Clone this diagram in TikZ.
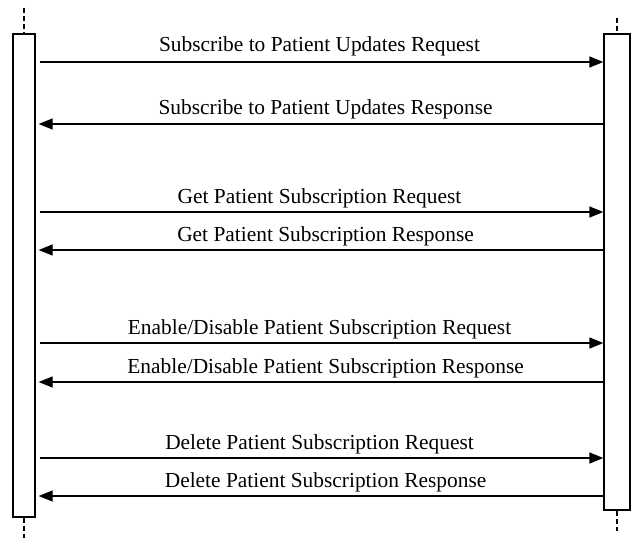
\documentclass[tikz,border=0pt]{standalone}
\usepackage{fontspec}
\setmainfont{Liberation Serif}
\usepackage{tikz}
\usetikzlibrary{arrows.meta}
\tikzset{
  bar/.style={draw,line width=1.3pt,inner sep=0pt},
  life/.style={line width=1.3pt,dash pattern=on 5pt off 3pt},
  msg/.style={line width=1.3pt,-{Triangle[length=14pt,width=11pt]}},
  lbl/.style={inner sep=0pt,font=\fontsize{21.4}{25}\selectfont},
}

\begin{document}
\begin{tikzpicture}[x=1pt,y=-1pt]
       \useasboundingbox (0,0) rectangle (644,543);
       % lifelines
       \node[bar,minimum width=22pt,minimum height=483pt] (lbar) at (24,275.5) {};
       \node[bar,minimum width=26pt,minimum height=476pt] (rbar) at (617,272) {};
       \coordinate (ltop) at (24,8);
       \coordinate (lbot) at (24,538);
       \coordinate (rtop) at (617,18);
       \coordinate (rbot) at (617,531);
       \draw[life] (ltop) -- (lbar.north);
       \draw[life] (lbar.south) -- (lbot);
       \draw[life] (rtop) -- (rbar.north);
       \draw[life] (rbar.south) -- (rbot);
       % messages
       \draw[msg,shorten <=4pt] (lbar.east |- 0,62) -- (rbar.west |- 0,62)
            node[lbl,midway,anchor=base,yshift=10pt] (t1) {Subscribe to Patient Updates Request};
       \draw[msg,shorten >=3pt] (rbar.west |- 0,124) -- (lbar.east |- 0,124)
            coordinate[pos=1] (e2);
       \node[lbl,anchor=base west,yshift=10pt] (t2) at (t1.base west |- e2) {Subscribe to Patient Updates Response};
       \draw[msg,shorten <=4pt] (lbar.east |- 0,212) -- (rbar.west |- 0,212)
            node[lbl,midway,anchor=base,yshift=9pt] (t3) {Get Patient Subscription Request};
       \draw[msg,shorten >=3pt] (rbar.west |- 0,250) -- (lbar.east |- 0,250)
            coordinate[pos=1] (e4);
       \node[lbl,anchor=base west,yshift=9pt] (t4) at (t3.base west |- e4) {Get Patient Subscription Response};
       \draw[msg,shorten <=4pt] (lbar.east |- 0,343) -- (rbar.west |- 0,343)
            node[lbl,midway,anchor=base,yshift=9pt] (t5) {Enable/Disable Patient Subscription Request};
       \draw[msg,shorten >=3pt] (rbar.west |- 0,382) -- (lbar.east |- 0,382)
            coordinate[pos=1] (e6);
       \node[lbl,anchor=base west,yshift=9pt] (t6) at (t5.base west |- e6) {Enable/Disable Patient Subscription Response};
       \draw[msg,shorten <=4pt] (lbar.east |- 0,458) -- (rbar.west |- 0,458)
            node[lbl,midway,anchor=base,yshift=9pt] (t7) {Delete Patient Subscription Request};
       \draw[msg,shorten >=3pt] (rbar.west |- 0,496) -- (lbar.east |- 0,496)
            coordinate[pos=1] (e8);
       \node[lbl,anchor=base west,yshift=9pt] (t8) at (t7.base west |- e8) {Delete Patient Subscription Response};
\end{tikzpicture}
\end{document}
